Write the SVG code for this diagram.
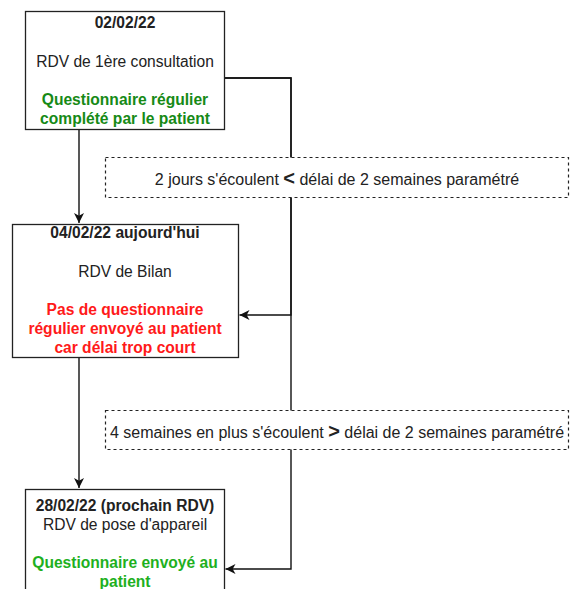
<svg xmlns="http://www.w3.org/2000/svg" width="571" height="589" viewBox="0 0 571 589">
<defs>
<marker id="arr" markerWidth="11" markerHeight="11" refX="10" refY="5.5" orient="auto" markerUnits="userSpaceOnUse">
<path d="M0,0.5 L10,5.5 L0,10.5 L2.8,5.5 Z" fill="#111"/>
</marker>
<style>
.box{fill:#fff;stroke:#222;stroke-width:1.3}
.dash{fill:#fff;stroke:#222;stroke-width:1.2;stroke-dasharray:3 3}
.edge{fill:none;stroke:#111;stroke-width:1.4}
text{font-family:"Liberation Sans",Arial,sans-serif;font-size:15.6px;fill:#222;text-anchor:middle}
.lbl{font-size:16px}
.b{font-weight:bold}
.g1{fill:#168a16;font-weight:bold}
.g2{fill:#1eb01e;font-weight:bold}
.r{fill:#ff1a1a;font-weight:bold}
.big{font-size:20px;font-weight:bold}
</style>
</defs>
<g id="connectors">
<path class="edge" d="M79,129.5 V223" marker-end="url(#arr)"/>
<path class="edge" d="M79,357.5 V488" marker-end="url(#arr)"/>
<path class="edge" d="M224.5,78 H291 V315 H239.5" marker-end="url(#arr)"/>
<path class="edge" d="M224.5,78 H291 V569 H225.5" marker-end="url(#arr)"/>
</g>
<g id="node1">
<rect class="box" x="25.5" y="11.5" width="199" height="118"/>
<text class="b" x="125" y="28">02/02/22</text>
<text x="125" y="67">RDV de 1ère consultation</text>
<text class="g1" x="125" y="105">Questionnaire régulier</text>
<text class="g1" x="125" y="124">complété par le patient</text>
</g>
<g id="node2">
<rect class="box" x="12.5" y="224.5" width="226" height="133"/>
<text class="b" x="125" y="238">04/02/22 aujourd'hui</text>
<text x="125" y="277">RDV de Bilan</text>
<text class="r" x="125" y="315">Pas de questionnaire</text>
<text class="r" x="125" y="334">régulier envoyé au patient</text>
<text class="r" x="125" y="353">car délai trop court</text>
</g>
<g id="node3">
<rect class="box" x="25.5" y="489.5" width="199" height="120"/>
<text class="b" x="125" y="511">28/02/22 (prochain RDV)</text>
<text x="125" y="530">RDV de pose d'appareil</text>
<text class="g2" x="125" y="568">Questionnaire envoyé au</text>
<text class="g2" x="125" y="587">patient</text>
</g>
<g id="label1">
<rect class="dash" x="105.5" y="157.5" width="463" height="40"/>
<text class="lbl" x="337" y="185">2 jours s'écoulent <tspan class="big">&lt;</tspan> délai de 2 semaines paramétré</text>
</g>
<g id="label2">
<rect class="dash" x="105.5" y="410.5" width="463" height="39"/>
<text class="lbl" x="337" y="438">4 semaines en plus s'écoulent <tspan class="big">&gt;</tspan> délai de 2 semaines paramétré</text>
</g>
</svg>
